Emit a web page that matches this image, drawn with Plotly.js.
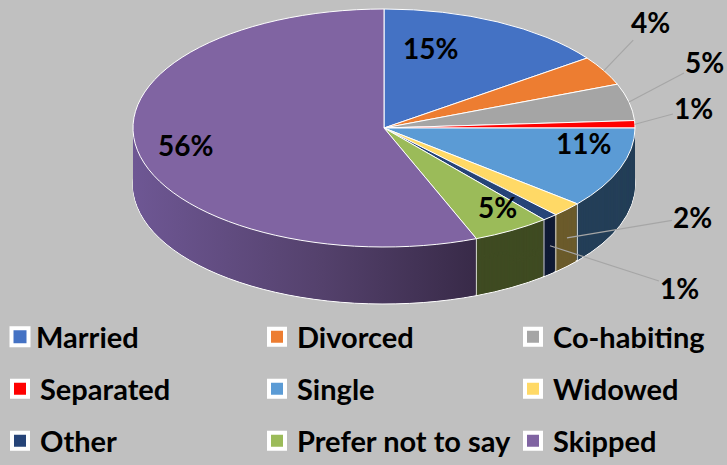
<!DOCTYPE html>
<html><head><meta charset="utf-8">
<script src="https://cdn.plot.ly/plotly-3.0.1.min.js"></script>
<style>html,body{margin:0;padding:0;background:#c0c0c0;} #chart{width:727px;height:465px;}</style>
</head><body><div id="chart"></div>
<script>
// ---- data ----
const categories = ['Married','Divorced','Co-habiting','Separated','Single','Widowed','Other','Prefer not to say','Skipped'];
const shares = [15, 4, 5, 1, 11, 2, 1, 5, 56];
const topColors = ['#4472C4','#ED7D31','#A5A5A5','#FF0000','#5B9BD5','#FFD966','#264478','#9BBB59','#8064A2'];
const sideColors = ['#2B4A82','#9C4F1B','#6B6B6B','#A50000','#243F58','#6B5B2B','#101B35','#3F4B22','#5A4775'];

// ---- styling / geometry ----
const W = 727, H = 465;
const CX = 384, CY = 128, A = 251, B = 119, DEPTH = 57;
const labelFont = {family:'Lato, "Open Sans", sans-serif', size:28, weight:700, color:'#000'};
const legendFont = {family:'Lato, "Open Sans", sans-serif', size:29, weight:700, color:'#000'};
const placement = [
  {f:0.6, dx:-22, dy:-16},
  {out:true, ax:47, ay:-49},
  {out:true, ax:76, ay:-40},
  {out:true, ax:59, ay:-16},
  {f:0.7, dx:34, dy:-13},
  {out:true, side:true, ax:126, ay:-21},
  {out:true, side:true, ax:130, ay:42},
  {f:0.7, dx:24, dy:7},
  {f:0.7, dx:-26, dy:1}
];
const legendColX = [0, 257, 513];
const legendRowY = [337, 389, 441];

const total = shares.reduce((s,v)=>s+v,0);
function pt(thetaDeg, f, dy){
  const t = thetaDeg*Math.PI/180;
  return [CX + f*A*Math.sin(t), CY - f*B*Math.cos(t) + (dy||0)];
}
const annotations = [];
const boundaries = [];
let cum = 0;
shares.forEach((v,i)=>{
  const mid = (cum + v/2)/total*360; cum += v;
  boundaries.push(cum/total*360);
  const p = placement[i];
  const txt = v + '%';
  if(!p.out){
    const [x,y] = pt(mid, p.f);
    annotations.push({xref:'paper', yref:'paper', x:(x+p.dx)/W, y:1-(y+p.dy)/H, xanchor:'center', yanchor:'middle',
      text:txt, showarrow:false, font:labelFont});
  } else {
    const [x,y] = pt(mid, 1, p.side ? DEPTH/2 : 0);
    annotations.push({xref:'paper', yref:'paper', x:x/W, y:1-y/H, text:txt, showarrow:true, arrowhead:0, arrowwidth:1.2,
      arrowcolor:'#A6A6A6', ax:p.ax, ay:p.ay, standoff:0, startstandoff:0, font:labelFont});
  }
});

const dom = {x:[0.2,0.8], y:[0,1]};
const data = [
  {type:'pie', values:shares, labels:categories, sort:false, direction:'clockwise', rotation:0,
   marker:{colors:sideColors, line:{width:0}}, textinfo:'none', hoverinfo:'skip', showlegend:false, domain:dom},
  {type:'pie', values:shares, labels:categories, sort:false, direction:'clockwise', rotation:0,
   marker:{colors:topColors, line:{color:'#ffffff', width:1}}, textinfo:'none', hoverinfo:'skip', showlegend:false, domain:dom}
];
const layout = {
  width:W, height:H, margin:{l:0,r:0,t:0,b:0,autoexpand:false},
  paper_bgcolor:'#c0c0c0', plot_bgcolor:'rgba(0,0,0,0)',
  xaxis:{visible:false}, yaxis:{visible:false},
  showlegend:true, annotations:annotations
};
categories.forEach((name,i)=>{
  const key = i===0 ? 'legend' : 'legend'+(i+1);
  data.push({type:'scatter', x:[null], y:[null], mode:'markers', name:name,
    marker:{symbol:'square', size:16, color:topColors[i], line:{color:'#ffffff', width:4}},
    legend:key, hoverinfo:'skip'});
  layout[key] = {orientation:'h', x:legendColX[i%3]/W, xanchor:'left', y:1-legendRowY[Math.floor(i/3)]/H, yanchor:'middle',
    font:legendFont, bgcolor:'rgba(0,0,0,0)', borderwidth:0};
});

const gd = document.getElementById('chart');
Plotly.newPlot(gd, data, layout, {staticPlot:true}).then(()=>{
  const svgNS = 'http://www.w3.org/2000/svg';
  const groups = gd.querySelectorAll('.pielayer g.trace');
  const cd0 = gd.calcdata[0][0];
  const sx = A/cd0.r, sy = B/cd0.r;
  const tf = dy => `translate(${CX},${CY+dy}) scale(${sx},${sy}) translate(${-cd0.cx},${-cd0.cy})`;
  const sideG = groups[0], topG = groups[1];
  topG.setAttribute('transform', tf(0));
  topG.querySelectorAll('path.surface').forEach(p=>p.setAttribute('vector-effect','non-scaling-stroke'));
  const defs = gd.querySelector('svg.main-svg defs') || gd.querySelector('svg.main-svg').appendChild(document.createElementNS(svgNS,'defs'));
  const lg = document.createElementNS(svgNS,'linearGradient');
  lg.setAttribute('id','skipSide'); lg.setAttribute('x1','0'); lg.setAttribute('x2','1'); lg.setAttribute('y1','0'); lg.setAttribute('y2','0');
  [['0','#6E5794'],['0.55','#54416C'],['1','#382A48']].forEach(([o,c])=>{
    const s = document.createElementNS(svgNS,'stop'); s.setAttribute('offset',o); s.setAttribute('stop-color',c); lg.appendChild(s);
  });
  defs.appendChild(lg);
  for(let dy = DEPTH; dy >= 1; dy -= 1){
    const c = sideG.cloneNode(true);
    c.setAttribute('transform', tf(dy));
    c.querySelectorAll('path.surface').forEach((p,i)=>{
      if(i === shares.length-1) p.style.fill = 'url(#skipSide)';
      p.setAttribute('vector-effect','non-scaling-stroke');
      if(dy === DEPTH){ p.style.stroke = '#ffffff'; p.style.strokeWidth = '1px'; }
      else { p.style.strokeWidth = '0px'; }
    });
    sideG.parentNode.insertBefore(c, topG);
  }
  sideG.style.display = 'none';
  boundaries.forEach(th=>{
    if(th > 90 && th < 270){
      const [x,y] = pt(th, 1);
      const ln = document.createElementNS(svgNS,'line');
      ln.setAttribute('x1',x); ln.setAttribute('x2',x); ln.setAttribute('y1',y); ln.setAttribute('y2',y+DEPTH);
      ln.setAttribute('stroke','#ffffff'); ln.setAttribute('stroke-width','1'); ln.setAttribute('stroke-opacity','0.8');
      sideG.parentNode.insertBefore(ln, topG);
    }
  });
  gd.querySelectorAll('.legend .legendpoints path').forEach(p=>{
    p.setAttribute('d','M8.5,8.5H-8.5V-8.5H8.5Z');
    p.style.strokeWidth = '4px'; p.style.stroke = '#ffffff';
  });
  gd.querySelectorAll('.legend text.legendtext').forEach(t=>t.setAttribute('x','36'));
});
</script></body></html>
